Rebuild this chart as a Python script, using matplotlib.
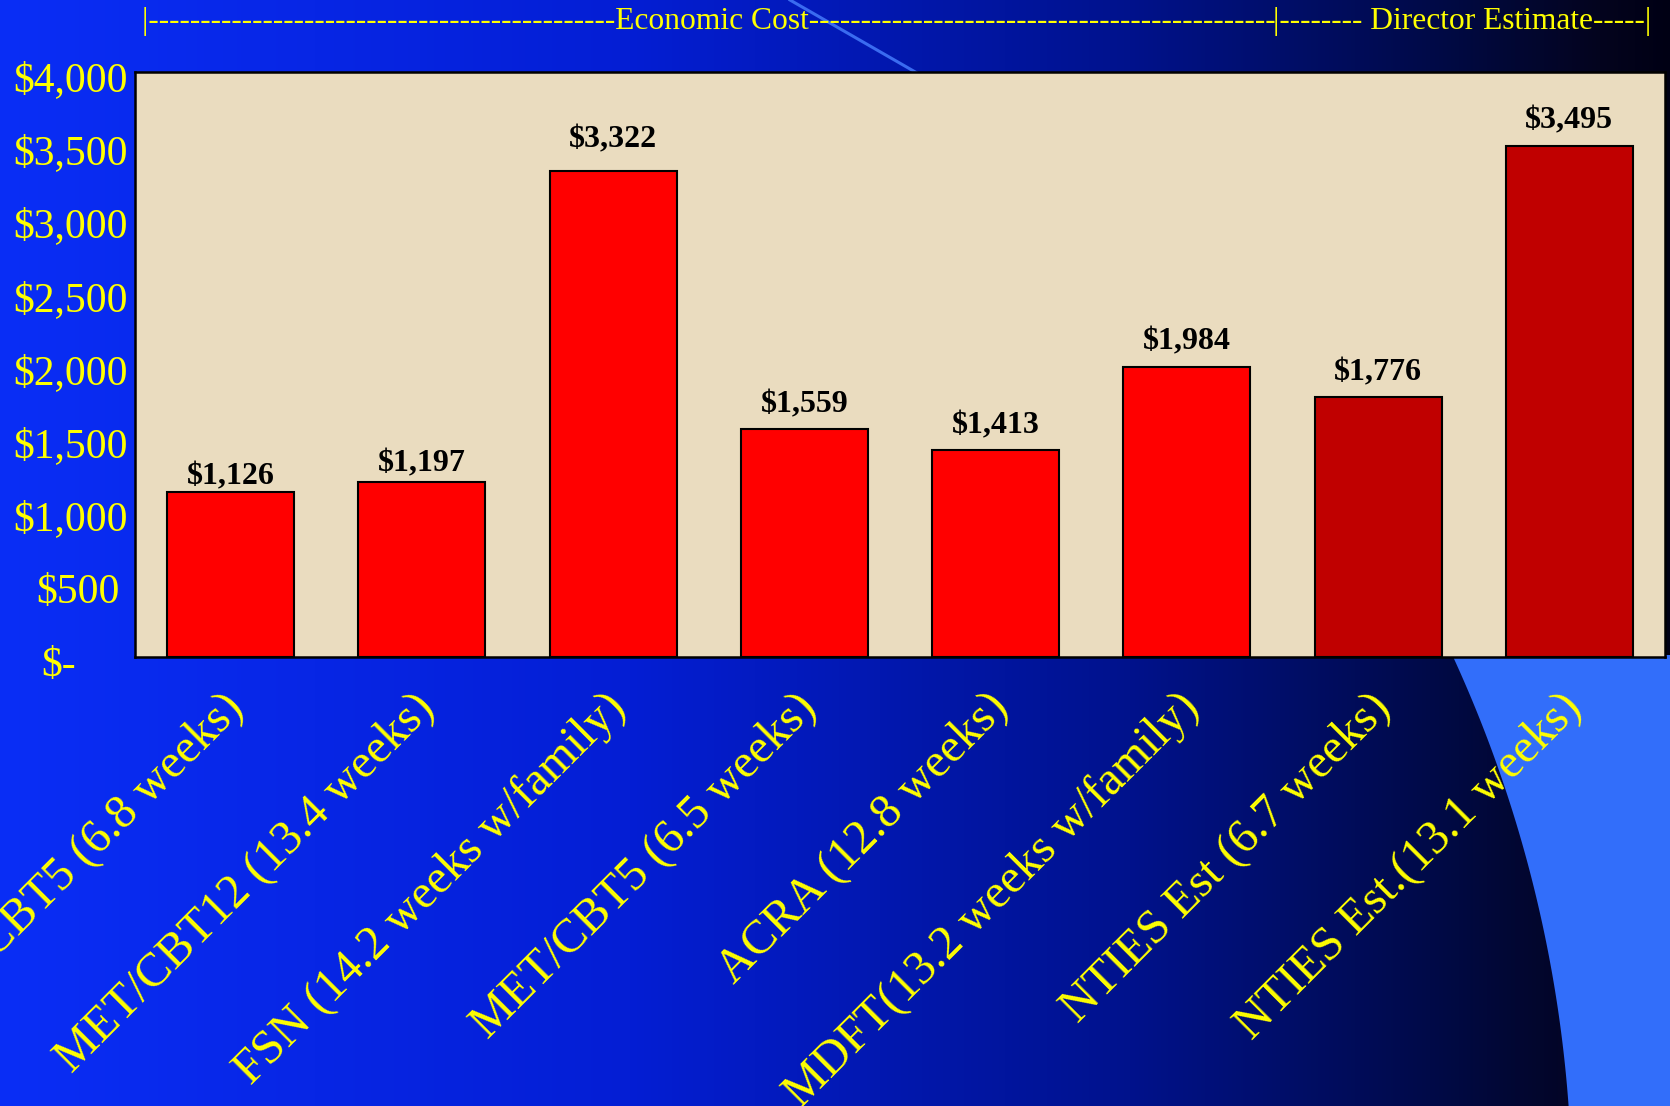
import numpy as np
import matplotlib
matplotlib.use("Agg")
import matplotlib.pyplot as plt
from matplotlib.patches import Polygon
import matplotlib.transforms as mtrans

# ---------------- data ----------------
categories = [
    "MET/CBT5 (6.8 weeks)",
    "MET/CBT12 (13.4 weeks)",
    "FSN (14.2 weeks w/family)",
    "MET/CBT5 (6.5 weeks)",
    "ACRA (12.8 weeks)",
    "MDFT(13.2 weeks w/family)",
    "NTIES Est (6.7 weeks)",
    "NTIES Est.(13.1 weeks)",
]
values = [1126, 1197, 3322, 1559, 1413, 1984, 1776, 3495]
value_labels = ["$1,126", "$1,197", "$3,322", "$1,559", "$1,413", "$1,984", "$1,776", "$3,495"]
groups = ["Economic Cost"] * 6 + ["Director Estimate"] * 2
ytick_values = [0, 500, 1000, 1500, 2000, 2500, 3000, 3500, 4000]
ytick_labels = ["$-", "$500", "$1,000", "$1,500", "$2,000", "$2,500", "$3,000", "$3,500", "$4,000"]
header_left = "|" + "-" * 45 + "Economic Cost" + "-" * 45
header_right = "|" + "-" * 8 + " Director Estimate" + "-" * 5 + "|"

# ---------------- style ----------------
W, H, DPI = 1670, 1106, 100
FONT = "Liberation Serif"
YELLOW = "#FFFF00"
group_colors = {"Economic Cost": "#FF0000", "Director Estimate": "#C00000"}
ylabel_right_px = {"$-": 52, "$500": 8}      # extra right gap (px) for some labels
value_label_nudge_px = {0: -9, 1: -6, 2: 7}  # per-bar label nudges (px)

fig = plt.figure(figsize=(W / DPI, H / DPI), dpi=DPI)

# background (slide design)
bg = fig.add_axes([0, 0, 1, 1], zorder=0)
bg.set_xlim(0, W)
bg.set_ylim(H, 0)
bg.axis("off")
stops_x = [0, 630, 1130, 1430, 1600, W]
stops_c = np.array([(10, 46, 246), (4, 30, 212), (0, 18, 140), (0, 10, 72), (4, 4, 30), (0, 0, 20)]) / 255.0
xs = np.arange(W)
grad = np.stack([np.interp(xs, stops_x, stops_c[:, k]) for k in range(3)], axis=-1)[None, :, :]
bg.imshow(grad, extent=[0, W, H, 0], aspect="auto", interpolation="bilinear", zorder=0)
cx, cy, R = 272, 1200, 1300
yy = np.linspace(655, H, 200)
xx = cx + np.sqrt(R ** 2 - (yy - cy) ** 2)
poly = np.vstack([np.column_stack([xx, yy]), [[W + 5, H], [W + 5, 655]]])
bg.add_patch(Polygon(poly, closed=True, facecolor="#326EFA", edgecolor="none", zorder=1))
bg.plot([790, 917], [0, 73], color="#3A6BF0", lw=2.2, zorder=1)
bg.text(142, 29, header_left, color=YELLOW, fontsize=22.7, family=FONT,
        ha="left", va="baseline", zorder=2)
bg.text(1273, 29, header_right, color=YELLOW, fontsize=22.7, family=FONT,
        ha="left", va="baseline", zorder=2)

# main chart
L, R_, T, B = 135, 1665, 72, 657
ax = fig.add_axes([L / W, 1 - B / H, (R_ - L) / W, (B - T) / H], zorder=2)
ax.set_facecolor("#EADCBF")
x = np.arange(len(categories))
bar_colors = [group_colors[g] for g in groups]
ax.bar(x, values, width=0.665, color=bar_colors, edgecolor="black", linewidth=1.5, zorder=2)
ax.set_xlim(-0.5, len(categories) - 0.5)
ax.set_ylim(0, 4000)
ax.set_xticks([])
ax.set_yticks([])
for s in ax.spines.values():
    s.set_color("black")
    s.set_linewidth(1.8)

for i, (xi, v, lab) in enumerate(zip(x, values, value_labels)):
    off_px = 17 + value_label_nudge_px.get(i, 0)
    ax.annotate(lab, (xi, v), xytext=(0, off_px * 72 / DPI), textcoords="offset points",
                ha="center", va="baseline", fontsize=23, fontweight="bold",
                family=FONT, color="black", zorder=3)

# y tick labels
ytrans = mtrans.blended_transform_factory(ax.transAxes, ax.transData)
for yv, lab in zip(ytick_values, ytick_labels):
    extra = ylabel_right_px.get(lab, 0)
    tr = ytrans + mtrans.ScaledTranslation(-(7 + extra) / DPI, -9 / DPI, fig.dpi_scale_trans)
    ax.text(0, yv, lab, transform=tr, ha="right", va="center", fontsize=30,
            family=FONT, color=YELLOW, clip_on=False)

# x category labels
xtrans = mtrans.blended_transform_factory(ax.transData, ax.transAxes)
for xi, lab in zip(x, categories):
    tr = xtrans + mtrans.ScaledTranslation(-10 / DPI, -28 / DPI, fig.dpi_scale_trans)
    ax.text(xi, 0, lab, transform=tr, ha="right", va="top", rotation=45,
            rotation_mode="anchor", fontsize=34.5, family=FONT, color=YELLOW, clip_on=False)

fig.savefig("out.png", dpi=DPI)
